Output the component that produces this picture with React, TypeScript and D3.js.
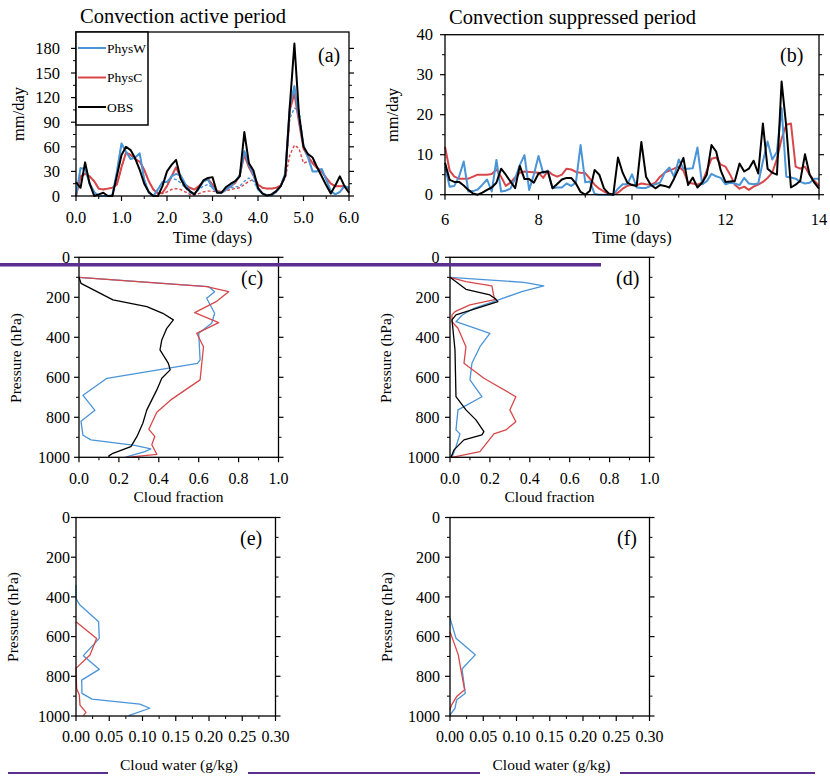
import React from 'react';
import * as d3 from 'd3';

const BLUE = '#4a94d8';
const RED = '#d8474a';
const BLACK = '#000000';
const PURPLE = '#5b2e90';
const FONT = '"Liberation Serif", "Times New Roman", serif';

// ---------- (a) convection active period, 0.1-day samples 0.0 .. 6.0 ----------
const TIME_A = d3.range(0, 61).map((i) => i / 10);
const OBS_A = [17, 10, 41, 15, 0, 2, 4, 0, 0, 25, 50, 60, 56, 46, 32, 15, 5, 0, 0, 12, 30, 38, 44, 21, 11, 6, 2, 10, 19, 22, 23, 4, 4, 11, 15, 18, 24, 78, 40, 31, 10, 3, 0.5, 2, 6, 12, 25, 110, 186, 100, 60, 51, 47, 35, 24, 13, 3, 13, 24, 12, 4];
const PHYSW_A = [0, 34, 33, 15, 5, 0, 0, 0, 1, 30, 64, 54, 45, 47, 52, 20, 4, 0, 8, 17, 17, 24, 27, 25, 15, 6, 2, 9, 18, 20, 10, 5, 4, 8, 12, 18, 25, 55, 38, 26, 8, 3, 1, 1, 5, 12, 28, 110, 134, 95, 62, 47, 30, 30, 33, 20, 6, 2, 5, 12, 10];
const PHYSC_A = [0, 24, 27, 24, 18, 9, 8, 9, 10, 14, 35, 53, 50, 45, 42, 32, 18, 8, 3, 4, 12, 24, 35, 22, 14, 10, 8, 12, 18, 21, 14, 6, 5, 8, 12, 16, 26, 50, 35, 25, 14, 10, 9, 9, 10, 13, 25, 105, 125, 90, 58, 48, 40, 34, 30, 22, 15, 12, 12, 12, 9];
const PHYSW_A_DASH = [0, 34, 33, 15, 5, 0, 0, 0, 1, 30, 64, 54, 45, 47, 52, 20, 4, 0, 8, 17, 17, 22, 20, 16, 10, 4, 2, 8, 12, 14, 10, 5, 4, 8, 10, 11, 12, 18, 22, 18, 8, 3, 1, 1, 5, 12, 26, 95, 107, 105, 62, 47, 30, 30, 33, 20, 6, 2, 5, 12, 10];
const PHYSC_A_DASH = [0, 24, 27, 24, 18, 9, 8, 9, 10, 14, 35, 53, 50, 45, 42, 32, 18, 8, 3, 3, 5, 8, 9, 8, 5, 2, 1, 3, 5, 6, 6, 5, 5, 6, 8, 9, 10, 14, 18, 20, 13, 10, 9, 9, 10, 13, 22, 50, 62, 58, 40, 42, 44, 35, 30, 22, 15, 12, 12, 12, 9];

// ---------- (b) convection suppressed period, 0.1-day samples 6.0 .. 14.0 ----------
const TIME_B = d3.range(0, 81).map((i) => 6 + i / 10);
const OBS_B = [8, 3.7, 3.2, 3.2, 2.3, 1.2, 0.3, 0, 0.5, 1.2, 1.8, 3.0, 6.5, 5, 3.3, 1.6, 7.2, 3.9, 3.9, 3.0, 5.3, 5.7, 5.8, 1.6, 2.7, 3.8, 4.2, 4.2, 2.8, 0.7, 0, 1, 6.2, 5, 1.6, 0.3, 0, 9.3, 5.5, 3, 2.4, 2.2, 13.2, 4.5, 2.5, 1.6, 2.4, 2.2, 1.8, 4, 6.5, 9.2, 2.4, 4.3, 1.8, 3, 5, 12.4, 10.8, 6, 3.2, 3.3, 3.4, 7.8, 5.8, 6.5, 8.5, 5.3, 17.8, 6.5, 5.5, 5, 28.3, 17, 1.8, 2.5, 3.5, 10.1, 5, 3, 1.5];
const PHYSW_B = [7, 2.0, 2.2, 4.5, 8.3, 0.8, 0.9, 1.3, 2.5, 3.8, 0.8, 8.7, 0.8, 1.0, 1.5, 4, 7.4, 9.9, 1.2, 5, 9.7, 5.4, 6.0, 1.6, 1.8, 1.8, 2.8, 2.2, 3, 12.4, 3.1, 3.3, 0.2, 0, 0, 0, 0, 1.5, 2.6, 2.6, 5.1, 1.8, 1.7, 1.7, 2.2, 2.6, 3.0, 5.5, 6.8, 4.5, 8.8, 6.5, 6.5, 6.6, 11.8, 2.6, 3.4, 5.2, 4.6, 4.2, 2.6, 3.0, 2.8, 2.4, 4.2, 2.8, 2.6, 2.8, 8.3, 13.3, 8.8, 10.7, 21.6, 4.5, 4.3, 4, 3.2, 2.8, 3, 4, 4];
const PHYSC_B = [12, 6, 4.5, 4, 4, 4, 4.5, 5, 5, 5, 5.2, 6.3, 4.5, 2.2, 3, 4.3, 5.5, 5.8, 5.7, 5.6, 5.5, 4.2, 6, 5, 4.5, 5, 6.5, 6.3, 5.7, 5.5, 5.4, 4, 2.5, 1.5, 0.8, 0.2, 0, 0.5, 1.5, 2.2, 2.5, 2.4, 2.8, 2.6, 2.5, 3, 4.5, 5.5, 6, 6.5, 7, 6, 3, 2.8, 2.5, 3, 6, 9, 9.3, 7.5, 7, 5, 2.5, 1.5, 2, 1.2, 2, 2.5, 3.2, 4.2, 5.5, 9, 14, 17.5, 17.8, 7, 6.5, 7, 5, 3.5, 2.2];

// ---------- (c) cloud fraction, active period ----------
const C_W_P = [100, 147, 172, 205, 280, 330, 380, 513, 530, 605, 690, 765, 820, 890, 913, 940, 958, 972, 1000];
const C_W_V = [0.0, 0.65, 0.68, 0.64, 0.68, 0.665, 0.6, 0.607, 0.594, 0.14, 0.02, 0.08, 0.01, 0.02, 0.06, 0.28, 0.36, 0.33, 0.23];
const C_C_P = [100, 147, 172, 220, 277, 327, 380, 447, 613, 713, 775, 860, 895, 937, 985, 1000];
const C_C_V = [0.0, 0.64, 0.75, 0.69, 0.58, 0.7, 0.59, 0.624, 0.607, 0.46, 0.39, 0.35, 0.38, 0.365, 0.39, 0.24];
const C_O_P = [100, 130, 172, 213, 247, 280, 313, 355, 413, 463, 530, 563, 605, 663, 763, 830, 897, 947, 980, 993, 1000];
const C_O_V = [0.0, 0.01, 0.09, 0.17, 0.34, 0.42, 0.473, 0.44, 0.415, 0.406, 0.448, 0.457, 0.415, 0.39, 0.34, 0.32, 0.29, 0.26, 0.17, 0.15, 0.15];

// ---------- (d) cloud fraction, suppressed period ----------
const D_W_P = [100, 125, 143, 172, 210, 255, 290, 322, 380, 447, 530, 613, 697, 763, 863, 883, 947, 1000];
const D_W_V = [0.0, 0.37, 0.47, 0.36, 0.25, 0.12, 0.06, 0.03, 0.2, 0.15, 0.11, 0.1, 0.16, 0.04, 0.03, 0.05, 0.03, 0.01];
const D_C_P = [100, 122, 143, 197, 210, 238, 272, 288, 322, 355, 447, 530, 605, 697, 763, 822, 863, 883, 972, 1000];
const D_C_V = [0.0, 0.08, 0.21, 0.22, 0.23, 0.1, 0.025, 0.01, 0.01, 0.04, 0.08, 0.07, 0.17, 0.33, 0.3, 0.33, 0.28, 0.22, 0.15, 0.01];
const D_O_P = [100, 160, 188, 210, 222, 288, 313, 463, 697, 763, 813, 872, 888, 913, 963, 1000];
const D_O_V = [0.0, 0.08, 0.2, 0.23, 0.24, 0.03, 0.01, 0.025, 0.03, 0.08, 0.13, 0.17, 0.16, 0.07, 0.02, 0.005];

// ---------- (e) cloud water, active period ----------
const E_W_P = [340, 408, 441, 525, 609, 696, 765, 819, 886, 915, 940, 961, 998];
const E_W_V = [0, 0, 0.006, 0.034, 0.035, 0.011, 0.035, 0.0085, 0.009, 0.024, 0.096, 0.111, 0.079];
const E_C_P = [525, 609, 693, 760, 861, 894, 945, 982, 998];
const E_C_V = [0, 0.031, 0.021, 0, 0.001, 0.005, 0.006, 0.015, 0.011];

// ---------- (f) cloud water, suppressed period ----------
const F_W_P = [507, 608, 692, 763, 885, 919, 961, 995];
const F_W_V = [0, 0.009, 0.038, 0.018, 0.023, 0.01, 0.0075, 0];
const F_C_P = [575, 692, 760, 868, 902, 944, 969];
const F_C_V = [0, 0.0125, 0.016, 0.022, 0.01, 0.0025, 0];

// ---------- ticks ----------
const A_X_MAJOR = [0, 1, 2, 3, 4, 5, 6];
const A_X_MINOR = [0.5, 1.5, 2.5, 3.5, 4.5, 5.5];
const A_Y_MAJOR = [0, 30, 60, 90, 120, 150, 180];
const A_Y_MINOR = [15, 45, 75, 105, 135, 165];
const B_X_MAJOR = [6, 8, 10, 12, 14];
const B_X_MINOR = [7, 9, 11, 13];
const B_Y_MAJOR = [0, 10, 20, 30, 40];
const B_Y_MINOR = [5, 15, 25, 35];
const CF_MAJOR = [0, 0.2, 0.4, 0.6, 0.8, 1.0];
const CF_MINOR = [0.1, 0.3, 0.5, 0.7, 0.9];
const CW_MAJOR = [0, 0.05, 0.1, 0.15, 0.2, 0.25, 0.3];
const CW_MINOR = [0.025, 0.075, 0.125, 0.175, 0.225, 0.275];
const P_MAJOR = [0, 200, 400, 600, 800, 1000];
const P_MINOR = [100, 300, 500, 700, 900];

const LEGEND = [
  { name: 'PhysW', color: BLUE },
  { name: 'PhysC', color: RED },
  { name: 'OBS', color: BLACK },
];

type Lin = d3.ScaleLinear<number, number>;

function Frame(props: {
  x: Lin; y: Lin;
  xMajor: number[]; xMinor: number[]; xFmt: (v: number) => string;
  yMajor: number[]; yMinor: number[]; yFmt: (v: number) => string;
  tickFont: number; xTickDy: number; yTickGap: number;
}) {
  const { x, y } = props;
  const [x0, x1] = x.range();
  const yr = y.range();
  const top = Math.min(yr[0], yr[1]);
  const bot = Math.max(yr[0], yr[1]);
  const maj = 5, min = 3;
  return (
    <g>
      <rect x={x0} y={top} width={x1 - x0} height={bot - top} fill="none" stroke="#000" strokeWidth={1.3} />
      {props.xMajor.map((v) => (
        <g key={'xm' + v}>
          <line x1={x(v)} x2={x(v)} y1={bot} y2={bot + maj} stroke="#000" strokeWidth={1.2} />
          <text x={x(v)} y={bot + props.xTickDy} textAnchor="middle" fontSize={props.tickFont} fontFamily={FONT}>{props.xFmt(v)}</text>
        </g>
      ))}
      {props.xMinor.map((v) => (
        <line key={'xn' + v} x1={x(v)} x2={x(v)} y1={bot} y2={bot + min} stroke="#000" strokeWidth={1} />
      ))}
      {props.yMajor.map((v) => (
        <g key={'ym' + v}>
          <line x1={x0 - maj} x2={x0} y1={y(v)} y2={y(v)} stroke="#000" strokeWidth={1.2} />
          <line x1={x1} x2={x1 + maj} y1={y(v)} y2={y(v)} stroke="#000" strokeWidth={1.2} />
          <text x={x0 - props.yTickGap} y={y(v) + props.tickFont * 0.35} textAnchor="end" fontSize={props.tickFont} fontFamily={FONT}>{props.yFmt(v)}</text>
        </g>
      ))}
      {props.yMinor.map((v) => (
        <g key={'yn' + v}>
          <line x1={x0 - min} x2={x0} y1={y(v)} y2={y(v)} stroke="#000" strokeWidth={1} />
          <line x1={x1} x2={x1 + min} y1={y(v)} y2={y(v)} stroke="#000" strokeWidth={1} />
        </g>
      ))}
    </g>
  );
}

function Txt(props: { x: number; y: number; size: number; anchor?: string; rotate?: boolean; children: React.ReactNode }) {
  return (
    <text
      x={props.rotate ? 0 : props.x}
      y={props.rotate ? 0 : props.y}
      transform={props.rotate ? `translate(${props.x},${props.y}) rotate(-90)` : undefined}
      textAnchor={props.anchor || 'start'}
      fontSize={props.size}
      fontFamily={FONT}
      fill="#000"
    >
      {props.children}
    </text>
  );
}

const fmt0 = d3.format('d');
const fmt1 = d3.format('.1f');
const fmt2 = d3.format('.2f');

export default function App() {
  // scales
  const xa = d3.scaleLinear().domain([0, 6]).range([76, 349]);
  const ya = d3.scaleLinear().domain([0, 200]).range([196, 32]);
  const xb = d3.scaleLinear().domain([6, 14]).range([445, 819]);
  const yb = d3.scaleLinear().domain([0, 40]).range([194.7, 34.7]);
  const xc = d3.scaleLinear().domain([0, 1]).range([79, 278.5]);
  const yc = d3.scaleLinear().domain([0, 1000]).range([257.3, 457.3]);
  const xd = d3.scaleLinear().domain([0, 1]).range([450, 649.5]);
  const yd = yc;
  const xe = d3.scaleLinear().domain([0, 0.3]).range([76, 275.5]);
  const ye = d3.scaleLinear().domain([0, 1000]).range([517.5, 716]);
  const xf = d3.scaleLinear().domain([0, 0.3]).range([450, 649.5]);
  const yf = ye;

  const tsLine = (times: number[], xs: Lin, ys: Lin) =>
    d3.line<number>().x((_, i) => xs(times[i])).y((d) => ys(d));
  const profLine = (ps: number[], xs: Lin, ys: Lin) =>
    d3.line<number>().x((d) => xs(d)).y((_, i) => ys(ps[i]));

  const la = tsLine(TIME_A, xa, ya);
  const lb = tsLine(TIME_B, xb, yb);

  return (
    <svg width={830} height={778} style={{ position: 'absolute', left: 0, top: 0, background: '#fff' }}>
      <rect x={0} y={0} width={830} height={778} fill="#fff" />

      {/* ---- (a) ---- */}
      <Txt x={80} y={23} size={20.5}>Convection active period</Txt>
      <g fill="none" strokeLinejoin="round">
        <path d={la(PHYSC_A_DASH) || ''} stroke={RED} strokeWidth={1.4} strokeDasharray="3,2" />
        <path d={la(PHYSW_A_DASH) || ''} stroke={BLUE} strokeWidth={1.4} strokeDasharray="3,2" />
        <path d={la(PHYSC_A) || ''} stroke={RED} strokeWidth={2} />
        <path d={la(PHYSW_A) || ''} stroke={BLUE} strokeWidth={2} />
        <path d={la(OBS_A) || ''} stroke={BLACK} strokeWidth={2} />
      </g>
      <Frame x={xa} y={ya} xMajor={A_X_MAJOR} xMinor={A_X_MINOR} xFmt={fmt1}
        yMajor={A_Y_MAJOR} yMinor={A_Y_MINOR} yFmt={fmt0} tickFont={16.5} xTickDy={27} yTickGap={16} />
      <rect x={76} y={32} width={72} height={93} fill="#fff" stroke="#000" strokeWidth={1.5} />
      {LEGEND.map((l, i) => (
        <g key={l.name}>
          <line x1={78} x2={106} y1={48 + i * 29.5} y2={48 + i * 29.5} stroke={l.color} strokeWidth={2} />
          <Txt x={107} y={48 + i * 29.5 + 4.5} size={13.5}>{l.name}</Txt>
        </g>
      ))}
      <Txt x={318} y={62} size={20}>(a)</Txt>
      <Txt x={212.5} y={243} size={16.5} anchor="middle">Time (days)</Txt>
      <Txt x={24} y={114} size={16.5} anchor="middle" rotate>mm/day</Txt>

      {/* ---- (b) ---- */}
      <Txt x={449} y={24} size={20.5}>Convection suppressed period</Txt>
      <g fill="none" strokeLinejoin="round">
        <path d={lb(PHYSC_B) || ''} stroke={RED} strokeWidth={2} />
        <path d={lb(PHYSW_B) || ''} stroke={BLUE} strokeWidth={2} />
        <path d={lb(OBS_B) || ''} stroke={BLACK} strokeWidth={2} />
      </g>
      <Frame x={xb} y={yb} xMajor={B_X_MAJOR} xMinor={B_X_MINOR} xFmt={fmt0}
        yMajor={B_Y_MAJOR} yMinor={B_Y_MINOR} yFmt={fmt0} tickFont={16.5} xTickDy={30} yTickGap={12} />
      <Txt x={780} y={62} size={20}>(b)</Txt>
      <Txt x={632} y={243} size={16.5} anchor="middle">Time (days)</Txt>
      <Txt x={398} y={115} size={16.5} anchor="middle" rotate>mm/day</Txt>

      {/* ---- (c) ---- */}
      <g fill="none" strokeLinejoin="round">
        <path d={profLine(C_W_P, xc, yc)(C_W_V) || ''} stroke={BLUE} strokeWidth={1.3} />
        <path d={profLine(C_C_P, xc, yc)(C_C_V) || ''} stroke={RED} strokeWidth={1.3} />
        <path d={profLine(C_O_P, xc, yc)(C_O_V) || ''} stroke={BLACK} strokeWidth={1.3} />
      </g>
      <Frame x={xc} y={yc} xMajor={CF_MAJOR} xMinor={CF_MINOR} xFmt={fmt1}
        yMajor={P_MAJOR} yMinor={P_MINOR} yFmt={fmt0} tickFont={16} xTickDy={27} yTickGap={9} />
      <Txt x={241} y={285} size={20}>(c)</Txt>
      <Txt x={178.5} y={502} size={15.5} anchor="middle">Cloud fraction</Txt>
      <Txt x={21} y={358} size={15.5} anchor="middle" rotate>Pressure (hPa)</Txt>

      {/* ---- (d) ---- */}
      <g fill="none" strokeLinejoin="round">
        <path d={profLine(D_W_P, xd, yd)(D_W_V) || ''} stroke={BLUE} strokeWidth={1.3} />
        <path d={profLine(D_C_P, xd, yd)(D_C_V) || ''} stroke={RED} strokeWidth={1.3} />
        <path d={profLine(D_O_P, xd, yd)(D_O_V) || ''} stroke={BLACK} strokeWidth={1.3} />
      </g>
      <Frame x={xd} y={yd} xMajor={CF_MAJOR} xMinor={CF_MINOR} xFmt={fmt1}
        yMajor={P_MAJOR} yMinor={P_MINOR} yFmt={fmt0} tickFont={16} xTickDy={27} yTickGap={10.5} />
      <Txt x={616} y={285} size={20}>(d)</Txt>
      <Txt x={549.5} y={502} size={15.5} anchor="middle">Cloud fraction</Txt>
      <Txt x={391} y={358} size={15.5} anchor="middle" rotate>Pressure (hPa)</Txt>

      {/* ---- (e) ---- */}
      <g fill="none" strokeLinejoin="round">
        <path d={profLine(E_W_P, xe, ye)(E_W_V) || ''} stroke={BLUE} strokeWidth={1.3} />
        <path d={profLine(E_C_P, xe, ye)(E_C_V) || ''} stroke={RED} strokeWidth={1.3} />
      </g>
      <Frame x={xe} y={ye} xMajor={CW_MAJOR} xMinor={CW_MINOR} xFmt={fmt2}
        yMajor={P_MAJOR} yMinor={P_MINOR} yFmt={fmt0} tickFont={16} xTickDy={26} yTickGap={6} />
      <Txt x={240} y={545} size={20}>(e)</Txt>
      <Txt x={179} y={770} size={15.5} anchor="middle">Cloud water (g/kg)</Txt>
      <Txt x={17.5} y={617} size={15.5} anchor="middle" rotate>Pressure (hPa)</Txt>

      {/* ---- (f) ---- */}
      <g fill="none" strokeLinejoin="round">
        <path d={profLine(F_W_P, xf, yf)(F_W_V) || ''} stroke={BLUE} strokeWidth={1.3} />
        <path d={profLine(F_C_P, xf, yf)(F_C_V) || ''} stroke={RED} strokeWidth={1.3} />
      </g>
      <Frame x={xf} y={yf} xMajor={CW_MAJOR} xMinor={CW_MINOR} xFmt={fmt2}
        yMajor={P_MAJOR} yMinor={P_MINOR} yFmt={fmt0} tickFont={16} xTickDy={26} yTickGap={10} />
      <Txt x={617} y={545} size={20}>(f)</Txt>
      <Txt x={551.5} y={770} size={15.5} anchor="middle">Cloud water (g/kg)</Txt>
      <Txt x={392} y={617} size={15.5} anchor="middle" rotate>Pressure (hPa)</Txt>

      {/* ---- purple rules ---- */}
      <line x1={0} x2={601} y1={264.8} y2={264.8} stroke={PURPLE} strokeWidth={3.5} />
      <line x1={8} x2={108} y1={773} y2={773} stroke={PURPLE} strokeWidth={2} />
      <line x1={248} x2={480} y1={773} y2={773} stroke={PURPLE} strokeWidth={2} />
      <line x1={620} x2={815} y1={773} y2={773} stroke={PURPLE} strokeWidth={2} />
    </svg>
  );
}
